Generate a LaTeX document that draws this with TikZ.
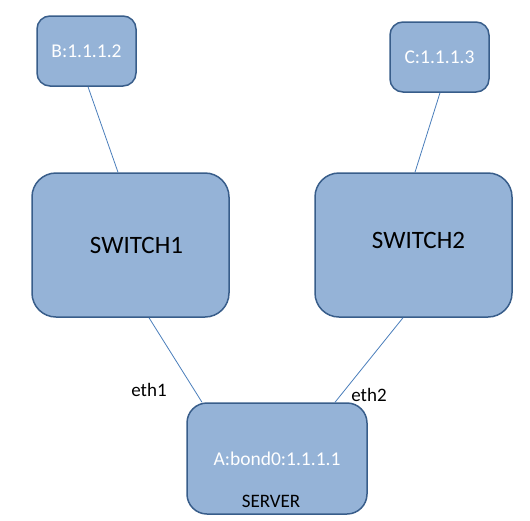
\documentclass[tikz,border=0pt]{standalone}
\usepackage{fontspec}
\setmainfont{Carlito}
\usetikzlibrary{positioning}
\definecolor{boxfill}{HTML}{95B3D7}
\definecolor{boxline}{HTML}{385D8A}
\definecolor{wire}{HTML}{4A7EBB}
\begin{document}
\begin{tikzpicture}[x=1pt,y=-1pt]
            \tikzset{
                host/.style={rectangle,rounded corners=13pt,draw=boxline,line width=1.5pt,fill=boxfill,
                    minimum width=99pt,minimum height=70pt,text=white,font=\fontsize{19.5}{22}\selectfont},
                switch/.style={host,rounded corners=24pt,minimum width=197pt,minimum height=144pt,
                    text=black,font=\fontsize{25}{28}\selectfont},
                server/.style={host,rounded corners=20pt,minimum width=180pt,minimum height=111pt},
                port/.style={font=\fontsize{19}{21}\selectfont},
                edge/.style={wire,line width=0.8pt}
            }
            \useasboundingbox (0,0) rectangle (530,520);
            % vertices
            \node[host] (b) at (86.5,51) {B:1.1.1.2};
            \node[host] (c) at (439.5,57) {C:1.1.1.3};
            \node[switch] (sw1) at (130.5,245) {\hspace{12pt}SWITCH1};
            \node[switch] (sw2) at (413.5,245) {\raisebox{10pt}{\hspace{10pt}SWITCH2}};
            \node[server] (a) at (277,458.5) {A:bond0:1.1.1.1};
            \node[port, above=4pt of a.south, xshift=-6pt] (srv) {SERVER};

            %edges
            \draw[edge] ([xshift=1.5pt]b.south) -- ([xshift=-12.5pt]sw1.north);
            \draw[edge] ([xshift=0.5pt]c.south) -- ([xshift=1.5pt]sw2.north);
            \draw[edge] ([xshift=18.5pt]sw1.south) -- ([xshift=-75pt]a.north);
            \draw[edge] ([xshift=-10.5pt]sw2.south) -- ([xshift=58pt]a.north);
            \node[port] (eth1) at (149,390) {eth1};
            \node[port] (eth2) at (369,395) {eth2};
            \end{tikzpicture}
\end{document}
